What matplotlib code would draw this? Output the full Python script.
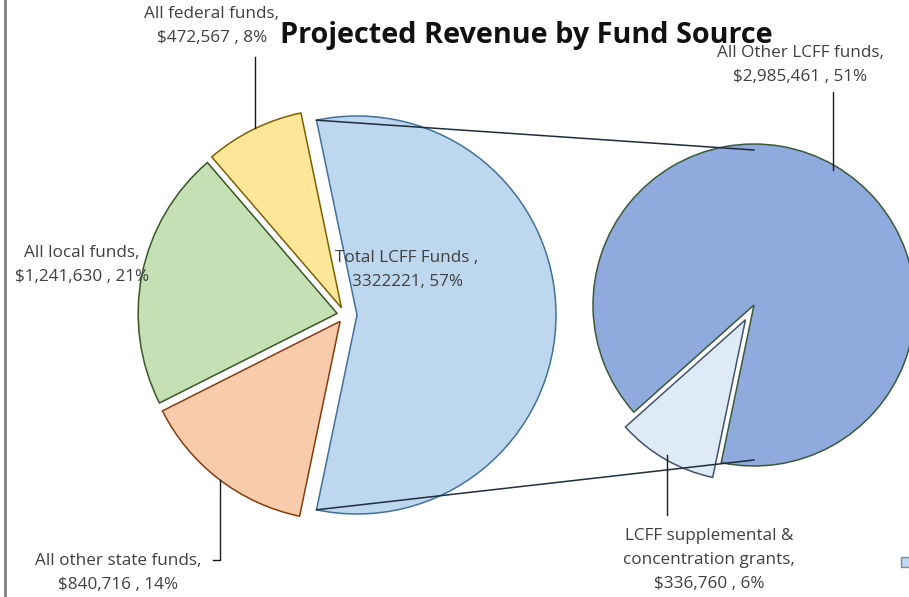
import matplotlib.pyplot as plt
from matplotlib.patches import Patch
import numpy as np

# left pie: fund sources
sources = ["Total LCFF Funds", "All federal funds", "All local funds", "All other state funds"]
amounts = [3322221, 472567, 1241630, 840716]
src_colors = ["#BDD7EE", "#FFE699", "#C5E0B4", "#F8CBAD"]
src_edges = ["#41719C", "#7F6000", "#385723", "#843C0C"]

# right pie: breakdown of LCFF
lcff_parts = ["All Other LCFF funds", "LCFF supplemental & concentration grants"]
lcff_amounts = [2985461, 336760]
lcff_colors = ["#8FAADC", "#DEEBF7"]
lcff_edges = ["#3B5A3A", "#41546E"]

W, H = 909, 597
fig = plt.figure(figsize=(W / 100, H / 100), dpi=100)
ax = fig.add_axes([0, 0, 1, 1])

plt.rcParams["font.family"] = ["Open Sans", "DejaVu Sans"]
txt = "#404040"

# left pie, LCFF slice pointing right (explode is in data units here)
frac0 = amounts[0] / sum(amounts)
w1, _ = ax.pie(amounts, colors=src_colors, startangle=-frac0 * 180,
               explode=[12, 8, 8, 8], radius=199,
               center=(345, H - 315), counterclock=True,
               wedgeprops=dict(linewidth=1.1))
for w, e in zip(w1, src_edges):
    w.set_edgecolor(e)

# right pie
small = lcff_amounts[1] / sum(lcff_amounts) * 360
start = 240 + small / 2
w2, _ = ax.pie(lcff_amounts, colors=lcff_colors, startangle=start,
               explode=[0, 17], radius=161, center=(754, H - 305),
               wedgeprops=dict(linewidth=1.1))
for w, e in zip(w2, lcff_edges):
    w.set_edgecolor(e)

# connector lines between the LCFF slice and the second pie
lc = w1[0]
cx, cy = lc.center
for ang, sign in [(lc.theta2, 1), (lc.theta1, -1)]:
    px = cx + lc.r * np.cos(np.radians(ang))
    py = cy + lc.r * np.sin(np.radians(ang))
    rx, ry = w2[0].center
    ax.plot([px, rx], [py, ry + sign * (w2[0].r - 6)], color="#1f2d3d", lw=1.1)

ax.set_xlim(0, W)
ax.set_ylim(0, H)
ax.set_aspect("equal")
ax.axis("off")

ax.text(526, H - 35, "Projected Revenue by Fund Source", ha="center", va="center",
        fontsize=20.8, fontweight="bold", color="#111111")

lab = dict(ha="center", va="center", fontsize=12.3, color=txt, linespacing=1.65)
ax.text(212, H - 26, "All federal funds,\n$472,567 , 8%", **lab)
ax.text(800, H - 65, "All Other LCFF funds,\n$2,985,461 , 51%", **lab)
ax.text(82, H - 265, "All local funds,\n$1,241,630 , 21%", **lab)
ax.text(407, H - 270, "Total LCFF Funds ,\n3322221, 57%", **lab)
ax.text(118, H - 573, "All other state funds,\n$840,716 , 14%", **lab)
ax.text(709, H - 560, "LCFF supplemental &\nconcentration grants,\n$336,760 , 6%", **lab)

# leader lines
lead = dict(color="#1a1a1a", lw=1)
ax.plot([255, 255], [H - 57, H - 128], **lead)
ax.plot([833, 833], [H - 92, H - 170], **lead)
ax.plot([220, 220, 213], [H - 480, H - 560, H - 560], **lead)
ax.plot([667, 667], [H - 455, H - 515], **lead)

# left border of the chart area
fig.add_artist(plt.Line2D([0.006, 0.006], [0, 1], color="#7f7f7f", lw=2))

# legend mostly cut off at the right edge, only its marker shows
ax.legend(handles=[Patch(facecolor="#BDD7EE", edgecolor="#7f8c9a")], labels=[""],
          loc="center left", bbox_to_anchor=(888 / W, 1 - 563 / H), frameon=False,
          handlelength=0.7, handleheight=0.7, fontsize=10)

fig.savefig("out.png", dpi=100)
